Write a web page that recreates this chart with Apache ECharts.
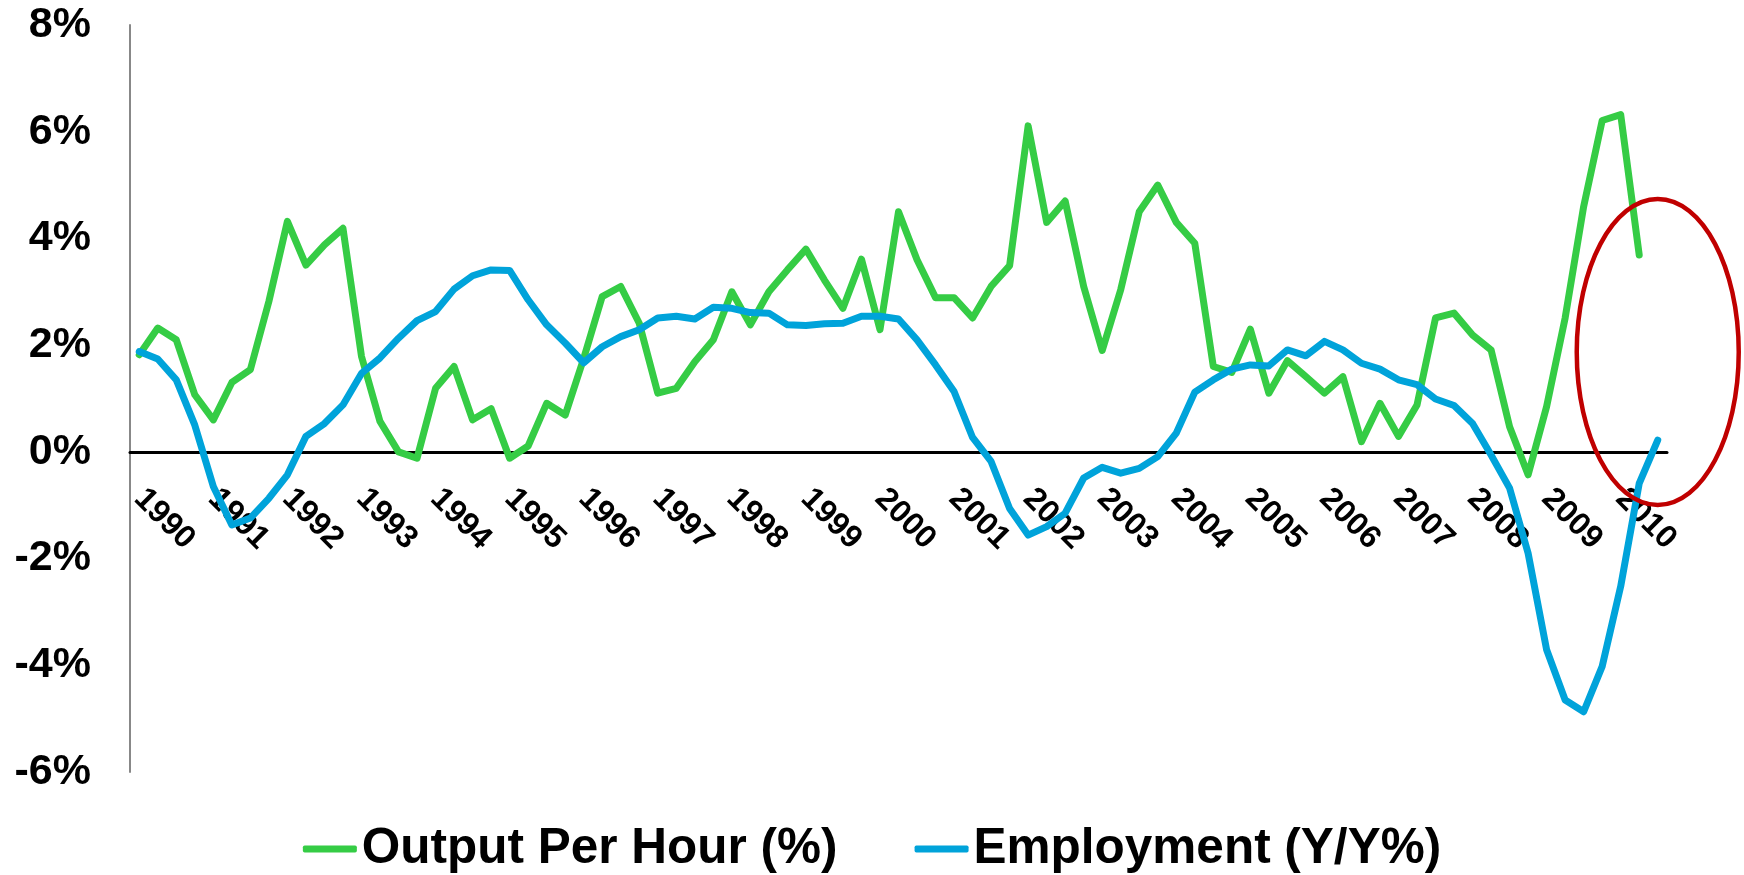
<!DOCTYPE html>
<html>
<head>
<meta charset="utf-8">
<title>Output Per Hour vs Employment</title>
<script src="https://cdn.jsdelivr.net/npm/echarts@6/dist/echarts.min.js"></script>
<style>
  html, body { margin: 0; padding: 0; background: #fff; }
  #graph { width: 1744px; height: 875px; }
</style>
</head>
<body>
<div id="graph"></div>
<script>
// years on the axis, one label per year (quarterly data)
var years = ['1990', '1991', '1992', '1993', '1994', '1995', '1996', '1997', '1998', '1999', '2000',
    '2001', '2002', '2003', '2004', '2005', '2006', '2007', '2008', '2009', '2010'];
var quarterNames = ['Q1', 'Q2', 'Q3', 'Q4'];

// output per hour, % y/y (1990 Q1 .. 2010 Q2)
var outputPerHour = [
    1.82, 2.32, 2.10, 1.07, 0.60, 1.30, 1.54, 2.82,
    4.32, 3.50, 3.88, 4.19, 1.79, 0.57, 0.00, -0.12,
    1.19, 1.60, 0.60, 0.81, -0.12, 0.11, 0.91, 0.69,
    1.75, 2.91, 3.10, 2.41, 1.10, 1.19, 1.69, 2.10,
    3.00, 2.38, 3.00, 3.41, 3.80, 3.22, 2.69, 3.61,
    2.29, 4.50, 3.60, 2.89, 2.89, 2.51, 3.10, 3.49,
    6.11, 4.30, 4.70, 3.10, 1.90, 3.04, 4.50, 5.00,
    4.30, 3.91, 1.60, 1.49, 2.30, 1.10, 1.71, 1.41,
    1.10, 1.41, 0.19, 0.91, 0.29, 0.88, 2.51, 2.60,
    2.19, 1.91, 0.47, -0.43, 0.85, 2.51, 4.60, 6.21,
    6.32, 3.69
];

// employment, % y/y (1990 Q1 .. 2010 Q3)
var employment = [
    1.88, 1.74, 1.35, 0.50, -0.65, -1.37, -1.24, -0.87,
    -0.43, 0.29, 0.53, 0.88, 1.47, 1.76, 2.13, 2.46,
    2.63, 3.05, 3.30, 3.41, 3.40, 2.85, 2.38, 2.04,
    1.67, 1.97, 2.16, 2.29, 2.51, 2.54, 2.49, 2.71,
    2.69, 2.61, 2.60, 2.38, 2.37, 2.40, 2.41, 2.54,
    2.54, 2.49, 2.10, 1.63, 1.13, 0.27, -0.18, -1.06,
    -1.56, -1.40, -1.15, -0.49, -0.29, -0.40, -0.31, -0.09,
    0.35, 1.12, 1.35, 1.55, 1.63, 1.61, 1.91, 1.80,
    2.07, 1.91, 1.66, 1.55, 1.35, 1.26, 0.99, 0.87,
    0.53, -0.06, -0.68, -1.90, -3.71, -4.65, -4.87, -4.02,
    -2.52, -0.59, 0.22
];

var seriesNames = ['Output Per Hour (%)', 'Employment (Y/Y%)'];
var colors = ['#35CC45', '#00A3DA'];
var yMin = -6, yMax = 8;

var quarters = [];
for (var i = 0; i < employment.length; i++) {
    quarters.push(years[Math.floor(i / 4)] + ' ' + quarterNames[i % 4]);
}

var fontFamily = '"Liberation Sans", Arial, sans-serif';
var gridTop = 25, gridBottom = 103;
var plotHeight = 875 - gridTop - gridBottom;
// move the category axis (line + labels) up to the 0% level
var zeroOffset = -plotHeight * (0 - yMin) / (yMax - yMin);

var dom = document.getElementById('graph');
var myChart = echarts.init(dom, null, {renderer: 'canvas'});

var option = {
    backgroundColor: '#fff',
    animation: false,
    textStyle: {fontFamily: fontFamily},
    grid: {left: 130, right: 77, top: gridTop, bottom: gridBottom, containLabel: false},
    legend: {
        data: seriesNames.map(function (name, k) {
            return {name: name, icon: 'roundRect', itemStyle: {color: colors[k]}};
        }),
        top: 819,
        left: 'center',
        itemWidth: 54,
        itemHeight: 7,
        itemGap: 77,
        textStyle: {fontSize: 49.5, fontWeight: 'bold', color: '#000', fontFamily: fontFamily}
    },
    xAxis: {
        type: 'category',
        data: quarters,
        boundaryGap: true,
        offset: zeroOffset,
        axisLine: {onZero: false, lineStyle: {color: '#000', width: 3}},
        axisTick: {show: false},
        splitLine: {show: false},
        axisLabel: {
            interval: 3,
            rotate: -45,
            margin: 42,
            align: 'left',
            verticalAlign: 'middle',
            fontSize: 32,
            fontWeight: 'bold',
            color: '#000',
            fontFamily: fontFamily,
            formatter: function (v) {
                return v.split(' ')[0];
            }
        }
    },
    yAxis: {
        type: 'value',
        min: yMin,
        max: yMax,
        interval: 2,
        axisLine: {show: true, onZero: false, lineStyle: {color: '#888', width: 2}},
        axisTick: {show: false},
        splitLine: {show: false},
        axisLabel: {
            margin: 39,
            fontSize: 43,
            fontWeight: 'bold',
            color: '#000',
            fontFamily: fontFamily,
            formatter: '{value}%'
        }
    },
    series: [
        {
            name: seriesNames[0],
            type: 'line',
            data: outputPerHour,
            showSymbol: false,
            symbol: 'none',
            color: colors[0],
            lineStyle: {width: 7, color: colors[0], cap: 'round', join: 'round'}
        },
        {
            name: seriesNames[1],
            type: 'line',
            data: employment,
            showSymbol: false,
            symbol: 'none',
            color: colors[1],
            lineStyle: {width: 7, color: colors[1], cap: 'round', join: 'round'}
        }
    ]
};
myChart.setOption(option);

// red ellipse around the latest quarter
var c = myChart.convertToPixel({seriesIndex: 1}, [employment.length - 1, 1.87]);
myChart.setOption({
    graphic: [{
        type: 'ellipse',
        shape: {cx: c[0], cy: c[1], rx: 81, ry: 153},
        style: {fill: 'none', stroke: '#C00000', lineWidth: 4.5},
        z: 100
    }]
});
</script>
</body>
</html>
